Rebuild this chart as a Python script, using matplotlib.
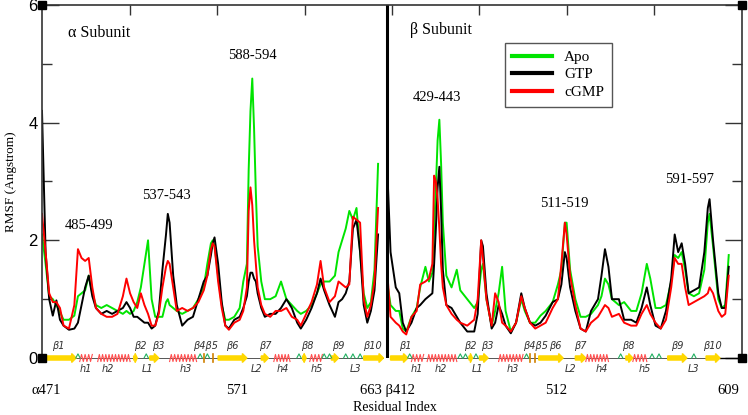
import numpy as np
import matplotlib.pyplot as plt
from matplotlib.patches import FancyArrow
from matplotlib.lines import Line2D

# ---- RMSF data (Angstrom) ----
alpha_res = [471, 473, 475, 477, 479, 481, 483, 486, 489, 491, 493, 495, 497, 499, 501,
             504, 507, 510, 513, 516, 518, 520, 522, 524, 526, 528, 530, 532, 534, 536,
             538, 540, 541, 542, 544, 546, 549, 552, 555, 558, 561, 563, 565, 566, 567,
             569, 571, 573, 575, 578, 581, 583, 585, 586, 587, 588, 589, 590, 591, 593,
             595, 598, 601, 604, 607, 610, 613, 615, 618, 621, 624, 626, 628, 631, 634,
             636, 638, 640, 642, 644, 646, 648, 650, 652, 654, 656, 658]
alpha_apo = [2.1, 1.6, 1.05, 1.0, 0.9, 0.78, 0.65, 0.65, 0.72, 1.05, 1.1, 1.15, 1.4, 1.1, 0.9,
             0.85, 0.9, 0.85, 0.8, 0.75, 0.8, 0.75, 0.8, 0.95, 1.2, 1.6, 2.0, 1.0, 0.7, 0.7,
             0.7, 0.95, 1.0, 0.9, 0.85, 0.8, 0.75, 0.8, 0.85, 1.0, 1.2, 1.6, 1.95, 2.0, 1.9,
             1.4, 0.9, 0.65, 0.65, 0.7, 0.85, 1.3, 1.6, 3.2, 4.2, 4.75, 3.9, 2.8, 1.9, 1.3,
             1.0, 1.0, 1.05, 1.3, 1.0, 0.9, 0.8, 0.75, 0.8, 0.9, 1.1, 1.25, 1.3, 1.3, 1.4,
             1.8, 2.0, 2.2, 2.5, 2.35, 2.55, 1.8, 1.1, 0.85, 0.95, 1.5, 3.3]
alpha_gtp = [4.2, 1.8, 1.0, 0.72, 0.98, 0.65, 0.55, 0.48, 0.5, 0.6, 0.9, 1.2, 1.4, 1.05, 0.85,
             0.75, 0.8, 0.75, 0.8, 0.85, 0.95, 0.85, 0.7, 0.7, 0.65, 0.6, 0.6, 0.5, 0.55, 0.8,
             1.5, 2.1, 2.45, 2.3, 1.4, 0.9, 0.55, 0.65, 0.7, 1.0, 1.3, 1.4, 1.75, 1.95, 2.05,
             1.6, 0.95, 0.55, 0.5, 0.65, 0.7, 0.85, 1.05, 1.3, 1.45, 1.45, 1.35, 1.3, 1.1, 0.85,
             0.7, 0.75, 0.75, 0.85, 1.0, 0.85, 0.6, 0.5, 0.65, 0.85, 1.1, 1.35, 1.15, 0.9, 0.7,
             0.95, 1.0, 1.1, 1.3, 2.2, 2.35, 1.8, 0.9, 0.6, 0.8, 1.15, 2.1]
alpha_cgmp = [2.45, 1.8, 1.1, 0.95, 0.95, 0.85, 0.55, 0.5, 0.9, 1.85, 1.7, 1.65, 1.7, 1.2, 0.85,
              0.75, 0.7, 0.7, 0.75, 1.05, 1.35, 1.1, 0.95, 0.85, 1.1, 0.9, 0.75, 0.55, 0.55, 0.75,
              1.2, 1.55, 1.65, 1.6, 1.2, 0.8, 0.85, 0.8, 0.85, 0.95, 1.15, 1.4, 1.85, 1.95, 1.9,
              1.3, 0.85, 0.55, 0.48, 0.6, 0.65, 0.8, 1.2, 2.5, 2.9, 2.6, 2.0, 1.6, 1.2, 0.9,
              0.75, 0.7, 0.8, 0.8, 0.85, 0.7, 0.65, 0.55, 0.75, 0.95, 1.25, 1.65, 1.2, 0.95, 1.05,
              1.3, 1.25, 1.2, 1.25, 2.4, 2.35, 2.3, 1.0, 0.7, 0.9, 1.3, 2.55]

beta_res = [412, 414, 417, 419, 421, 423, 426, 429, 431, 434, 436, 438, 439, 440, 441,
            442, 443, 444, 446, 449, 452, 454, 458, 462, 464, 466, 467, 469, 472, 474,
            476, 478, 480, 483, 486, 489, 491, 494, 497, 500, 503, 507, 510, 512, 514,
            515, 517, 520, 523, 526, 529, 533, 535, 537, 539, 541, 545, 548, 552, 555,
            558, 561, 563, 566, 569, 572, 575, 577, 579, 581, 583, 585, 588, 591, 594,
            596, 597, 599, 602, 604, 606, 608]
beta_apo = [1.3, 0.9, 0.8, 0.8, 0.5, 0.45, 0.7, 0.85, 1.2, 1.55, 1.3, 1.45, 2.2, 2.9, 3.7,
            4.05, 3.3, 2.3, 1.4, 1.2, 1.5, 1.15, 1.0, 0.85, 0.95, 1.5, 1.6, 1.0, 0.55, 0.8,
            1.1, 1.55, 0.8, 0.45, 0.6, 1.0, 0.8, 0.6, 0.6, 0.72, 0.8, 0.95, 1.25, 1.5, 2.3,
            2.3, 1.5, 1.0, 0.7, 0.7, 0.75, 0.9, 1.05, 1.35, 1.25, 1.0, 0.9, 0.95, 0.8, 0.8,
            1.1, 1.6, 1.35, 0.85, 0.85, 0.9, 1.3, 1.75, 1.7, 1.8, 1.5, 1.1, 1.05, 1.1, 1.5,
            2.3, 2.45, 1.9, 1.0, 0.85, 0.9, 1.75]
beta_gtp = [3.3, 1.8, 1.2, 1.1, 0.6, 0.45, 0.6, 0.85, 0.9, 1.0, 1.05, 1.1, 1.6, 2.2, 2.9,
            3.25, 2.5, 1.5, 0.9, 0.85, 0.7, 0.6, 0.45, 0.45, 0.75, 2.0, 1.9, 1.1, 0.5, 0.6,
            0.9, 0.75, 0.55, 0.42, 0.6, 1.1, 0.85, 0.6, 0.55, 0.6, 0.72, 0.95, 1.0, 1.25, 1.8,
            1.7, 1.2, 0.8, 0.5, 0.45, 0.8, 1.0, 1.4, 1.85, 1.55, 1.0, 1.0, 0.65, 0.65, 0.6,
            0.85, 1.2, 0.9, 0.55, 0.5, 0.8, 1.35, 2.1, 1.8, 1.95, 1.6, 1.1, 1.15, 1.2, 1.8,
            2.55, 2.7, 2.0, 1.1, 0.85, 0.85, 1.55]
beta_cgmp = [1.5, 0.7, 0.6, 0.55, 0.45, 0.4, 0.7, 0.8, 1.25, 1.3, 1.35, 1.6, 3.1, 3.0, 2.7,
             2.2, 1.6, 1.2, 0.9, 0.75, 0.65, 0.6, 0.55, 0.65, 1.0, 2.0, 1.7, 1.0, 0.55, 1.1,
             0.95, 0.6, 0.55, 0.45, 0.6, 1.05, 0.85, 0.6, 0.5, 0.55, 0.6, 0.85, 1.0, 1.6, 2.3,
             2.1, 1.4, 0.9, 0.5, 0.45, 0.6, 0.7, 0.8, 0.9, 0.85, 0.7, 0.75, 0.6, 0.55, 0.55,
             0.75, 0.9, 0.75, 0.6, 0.5, 0.65, 1.2, 1.7, 1.6, 1.6, 1.2, 0.9, 0.95, 1.0, 1.05,
             1.1, 1.2, 1.1, 0.8, 0.7, 0.75, 1.4]

# ---- secondary structure (residue ranges) ----
alpha_strands = [(474, 490), (522, 524), (531, 536), (569, 585), (593, 597),
                 (616, 618), (632, 636), (650, 661)]
alpha_helices = [(492, 499), (502, 520), (542, 557), (600, 609), (620, 627)]
alpha_coils = [491, 529, 559, 563, 614, 628, 631, 640, 644, 648]
alpha_ticks = [561, 566]
alpha_top = [('β1', 480), ('β2', 525.5), ('β3', 535.5), ('β4β5', 562), ('β6', 577),
             ('β7', 595), ('β8', 618.5), ('β9', 636), ('β10', 655)]
alpha_bot = [('h1', 495.5), ('h2', 507.7), ('L1', 530), ('h3', 551), ('L2', 590.6),
             ('h4', 605), ('h5', 624), ('L3', 645.7)]

beta_strands = [(414, 424), (459, 461), (465, 470), (499, 513), (520, 526),
                (549, 553), (573, 584), (595, 603)]
beta_helices = [(426, 433), (435, 452), (476, 490), (526, 539), (553, 561)]
beta_coils = [425, 454, 457, 463, 492, 546, 564, 568, 588]
beta_ticks = [494, 497]
beta_top = [('β1', 422.3), ('β2', 459.7), ('β3', 469.5), ('β4β5', 497), ('β6', 508.5),
            ('β7', 523), ('β8', 550.5), ('β9', 578.7), ('β10', 598.8)]
beta_bot = [('h1', 429), ('h2', 443), ('L1', 463.7), ('h3', 484.4), ('L2', 517),
            ('h4', 535), ('h5', 559.7), ('L3', 587.9)]


def pos_a(r):
    return np.asarray(r, dtype=float) - 471


def pos_b(r):
    return 192 + (np.asarray(r, dtype=float) - 412) * 0.97


XMAX = 389.5
GREEN = '#00e400'
RED = '#ff0000'
serif = 'Liberation Serif'

fig = plt.figure(figsize=(7.48, 4.15), dpi=100)
ax = fig.add_axes([42 / 748, 1 - 358 / 415, 700 / 748, 353 / 415])

for pos, res, apo, gtp, cgmp in [(pos_a, alpha_res, alpha_apo, alpha_gtp, alpha_cgmp),
                                 (pos_b, beta_res, beta_apo, beta_gtp, beta_cgmp)]:
    x = pos(res)
    ax.plot(x, apo, color=GREEN, lw=1.4)
    ax.plot(x, gtp, color='black', lw=1.4)
    ax.plot(x, cgmp, color=RED, lw=1.4)

ax.set_xlim(0, XMAX)
ax.set_ylim(0, 6)

# divider between subunits
ax.axvline(192, color='black', lw=2.2)

# axes styling
for s in ['left', 'right', 'top']:
    ax.spines[s].set_color('#333333')
    ax.spines[s].set_linewidth(1.2)
ax.spines['bottom'].set_visible(False)
ax.set_xticks(np.linspace(0, XMAX, 9)[1:-1])
ax.tick_params(axis='x', bottom=False, top=True, labelbottom=False, direction='in',
               length=7, width=1, color='#333333')
ax.set_yticks([0, 2, 4, 6])
ax.set_yticks([1, 3, 5], minor=True)
ax.tick_params(axis='y', which='major', direction='in', left=True, right=True,
               length=12, width=1, color='#333333', labelsize=12, pad=3)
ax.tick_params(axis='y', which='minor', direction='in', left=True, right=True,
               length=7, width=1, color='#333333')
for lab in ax.get_yticklabels():
    lab.set_fontfamily('Liberation Sans')

ax.set_ylabel('RMSF (Angstrom)', family=serif, fontsize=9.5)
ax.yaxis.set_label_coords(-0.036, 0.5)

# corner squares
for cx, cy in [(0, 0), (1, 0), (0, 1), (1, 1)]:
    ax.plot(cx, cy, marker='s', ms=5.5, color='black', transform=ax.transAxes,
            clip_on=False, zorder=6)

# annotations
ax.text(14.5, 5.52, 'α Subunit', family=serif, fontsize=11.5, va='center')
ax.text(204.8, 5.58, 'β Subunit', family=serif, fontsize=11.5, va='center')
for lab, xx, yy in [('588-594', 103.5, 5.15), ('537-543', 55.6, 2.77),
                    ('485-499', 12.8, 2.26), ('429-443', 206.5, 4.42),
                    ('511-519', 277, 2.63), ('591-597', 346.7, 3.03)]:
    ax.text(xx, yy, lab, family=serif, fontsize=10.5, va='center')

# bottom residue labels
for lab, xx in [('α471', 2.2), ('571', 108.5), ('663 β412', 192), ('512', 286), ('609', 382)]:
    ax.text(xx, -0.56, lab, family=serif, fontsize=10.5, ha='center', va='center',
            clip_on=False)
ax.text(196.4, -0.84, 'Residual Index', family=serif, fontsize=10, ha='center',
        va='center', clip_on=False)

# secondary structure strip
YEL = '#ffd800'
for pos, strands, helices, coils, ticks, top, bot in [
        (pos_a, alpha_strands, alpha_helices, alpha_coils, alpha_ticks, alpha_top, alpha_bot),
        (pos_b, beta_strands, beta_helices, beta_coils, beta_ticks, beta_top, beta_bot)]:
    x0 = float(pos(strands[0][0]))
    x1 = float(pos(strands[-1][1]))
    ax.plot([x0, x1], [0, 0], color='#555555', lw=0.7, clip_on=False, zorder=3)
    for a, b in strands:
        xa, xb = float(pos(a)), float(pos(b))
        hl = min(2.5, (xb - xa) * 0.6)
        ax.add_patch(FancyArrow(xa, 0, xb - xa, 0, width=0.07, head_width=0.15,
                                head_length=hl, length_includes_head=True, color=YEL,
                                clip_on=False, zorder=4))
    for a, b in helices:
        xa, xb = float(pos(a)), float(pos(b))
        n = max(4, int((xb - xa) / 0.9))
        zx = np.linspace(xa, xb, n + 1)
        zy = np.where(np.arange(n + 1) % 2 == 0, -0.06, 0.06)
        ax.plot(zx, zy, color='#ff5050', lw=0.8, clip_on=False, zorder=4)
    for c in coils:
        xc = float(pos(c))
        ax.plot([xc - 1.2, xc, xc + 1.2], [0, 0.07, 0], color='#20b060', lw=0.8,
                clip_on=False, zorder=4)
    for t in ticks:
        xt = float(pos(t))
        ax.plot([xt, xt], [-0.07, 0.07], color='#d08000', lw=1.2, clip_on=False, zorder=4)
    for lab, r in top:
        ax.text(float(pos(r)), 0.2, lab, fontsize=7, style='italic', color='#333333',
                ha='center', va='center', clip_on=False)
    for lab, r in bot:
        ax.text(float(pos(r)), -0.18, lab, fontsize=7, style='italic', color='#333333',
                ha='center', va='center', clip_on=False)

# line from last strand to the right corner
ax.plot([float(pos_b(603)), XMAX], [0, 0], color='black', lw=1, clip_on=False, zorder=3)

# legend
handles = [Line2D([], [], color=GREEN, lw=3), Line2D([], [], color='black', lw=3),
           Line2D([], [], color=RED, lw=3)]
leg = ax.legend(handles, ['Apo', 'GTP', 'cGMP'], loc='upper left',
                bbox_to_anchor=((497 - 42) / 700, 1 - (35 - 5) / 353),
                prop={'family': serif, 'size': 11}, frameon=True, fancybox=False,
                edgecolor='#555555', framealpha=1, handlelength=2.6,
                labelspacing=0.25, borderpad=0.5)
leg.get_frame().set_linewidth(1)

fig.savefig('out.png', dpi=100)
